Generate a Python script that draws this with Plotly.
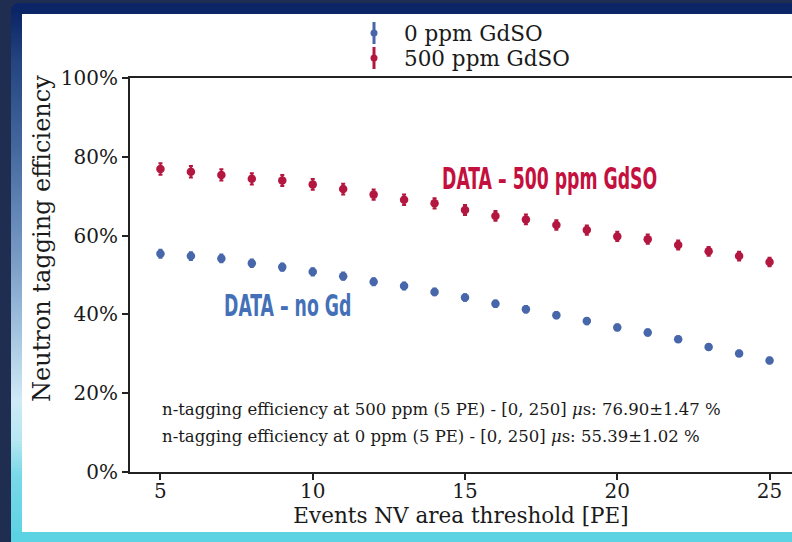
import plotly.graph_objects as go

# Neutron tagging efficiency vs. NV area threshold
threshold_pe = [5, 6, 7, 8, 9, 10, 11, 12, 13, 14, 15, 16, 17, 18, 19, 20, 21, 22, 23, 24, 25]
eff_500ppm = [76.90, 76.2, 75.4, 74.4, 74.0, 73.0, 71.8, 70.4, 69.1, 68.2, 66.5,
              65.0, 64.1, 62.7, 61.4, 59.8, 59.1, 57.6, 56.0, 54.8, 53.3]
err_500ppm = [1.47, 1.45, 1.44, 1.41, 1.40, 1.37, 1.36, 1.33, 1.31, 1.30, 1.27,
              1.25, 1.24, 1.21, 1.19, 1.18, 1.15, 1.13, 1.12, 1.10, 1.08]
eff_0ppm = [55.39, 54.8, 54.2, 53.0, 52.0, 50.8, 49.7, 48.3, 47.2, 45.7, 44.3,
            42.7, 41.3, 39.8, 38.3, 36.7, 35.4, 33.7, 31.7, 30.1, 28.3]
err_0ppm = [1.02, 1.00, 0.98, 0.96, 0.95, 0.93, 0.91, 0.89, 0.88, 0.86, 0.84,
            0.82, 0.81, 0.79, 0.77, 0.75, 0.74, 0.72, 0.70, 0.69, 0.67]
series_names = ["0 ppm GdSO", "500 ppm GdSO"]
y_ticks = [0, 20, 40, 60, 80, 100]
y_ticktext = ["0%", "20%", "40%", "60%", "80%", "100%"]
x_ticks = [5, 10, 15, 20, 25]

BLUE = "#4767aa"
RED = "#b3173f"
SERIF = "DejaVu Serif"
INK = "#1a1a1a"

W, H = 792, 542
L, R, T, B = 130, 792, 78, 472


def px(x):
    return (x - L) / (R - L)


def py(y):
    return (B - y) / (B - T)


fig = go.Figure()
fig.add_trace(go.Scatter(
    x=threshold_pe, y=eff_0ppm, mode="markers", name=series_names[0],
    marker=dict(color=BLUE, size=8.5),
    error_y=dict(type="data", array=err_0ppm, color=BLUE, thickness=2, width=2),
    showlegend=False, cliponaxis=False))
fig.add_trace(go.Scatter(
    x=threshold_pe, y=eff_500ppm, mode="markers", name=series_names[1],
    marker=dict(color=RED, size=8.5),
    error_y=dict(type="data", array=err_500ppm, color=RED, thickness=2, width=2),
    showlegend=False, cliponaxis=False))

shapes = []


def rect(x0, y0, x1, y1, color):
    shapes.append(dict(type="rect", xref="paper", yref="paper", layer="below",
                       x0=px(x0), x1=px(x1), y0=py(y1), y1=py(y0),
                       fillcolor=color, line=dict(width=0)))


# outer frame with a rounded top-left corner
r = 9
path = (f"M {px(11)},{py(542)} L {px(11)},{py(3 + r)} "
        f"Q {px(11)},{py(3)} {px(11 + r)},{py(3)} "
        f"L {px(792)},{py(3)} L {px(792)},{py(542)} Z")
shapes.append(dict(type="path", xref="paper", yref="paper", layer="below",
                   path=path, fillcolor="#0b2566", line=dict(width=0)))


def hex2rgb(h):
    h = h.lstrip("#")
    return [int(h[i:i + 2], 16) for i in (0, 2, 4)]


stops = [(10, "#0b2566"), (25, "#112d6d"), (60, "#23447f"), (150, "#45699f"),
         (250, "#7497c2"), (330, "#a2c3df"), (400, "#cfeaf6"), (440, "#b6e7f2"),
         (475, "#7ad8e8"), (542, "#5bd3e3")]


def grad(y):
    for (ya, ca), (yb, cb) in zip(stops[:-1], stops[1:]):
        if ya <= y <= yb:
            t = (y - ya) / (yb - ya)
            a, b = hex2rgb(ca), hex2rgb(cb)
            return "rgb(%d,%d,%d)" % tuple(round(a[i] + (b[i] - a[i]) * t) for i in range(3))
    return stops[-1][1]


step = 3
for y0 in range(12, 542, step):
    rect(11, y0, 22, min(y0 + step + 0.5, 542), grad(y0 + step / 2))

rect(11, 532, 792, 542, "#5bd3e3")
rect(22, 14, 792, 532, "#ffffff")

# legend glyphs: dot with vertical error bar
for name, color, yc in [(series_names[0], BLUE, 33), (series_names[1], RED, 58)]:
    shapes.append(dict(type="line", xref="paper", yref="paper", layer="above",
                       x0=px(374), x1=px(374), y0=py(yc - 11), y1=py(yc + 11),
                       line=dict(color=color, width=3)))
    shapes.append(dict(type="circle", xref="paper", yref="paper", layer="above",
                       x0=px(370.5), x1=px(377.5), y0=py(yc + 3.5), y1=py(yc - 3.5),
                       fillcolor=color, line=dict(width=0)))

annotations = []
for name, yc in [(series_names[0], 33), (series_names[1], 58)]:
    annotations.append(dict(xref="paper", yref="paper", x=px(402), y=py(yc),
                            xanchor="left", yanchor="middle", showarrow=False,
                            text=name, font=dict(family=SERIF, size=21.5, color=INK)))

info = [
    f"n-tagging efficiency at 500 ppm (5 PE) - [0, 250] <i>μ</i>s: {eff_500ppm[0]:.2f}±{err_500ppm[0]:.2f} %",
    f"n-tagging efficiency at 0 ppm (5 PE) - [0, 250] <i>μ</i>s: {eff_0ppm[0]:.2f}±{err_0ppm[0]:.2f} %",
]
for txt, yc in zip(info, [409, 436]):
    annotations.append(dict(xref="paper", yref="paper", x=px(160), y=py(yc),
                            xanchor="left", yanchor="middle", showarrow=False,
                            text=txt, font=dict(family=SERIF, size=16.5, color=INK)))

# y-axis title
annotations.append(dict(xref="paper", yref="paper", x=px(42), y=py(239),
                        xanchor="center", yanchor="middle", showarrow=False,
                        textangle=-90, text="Neutron tagging efficiency",
                        font=dict(family=SERIF, size=24, color=INK)))

# bold condensed series labels
COND = "DejaVu Sans Condensed, DejaVu Sans, sans-serif"
annotations.append(dict(xref="paper", yref="paper", x=px(440), y=py(178),
                        xanchor="left", yanchor="middle", showarrow=False,
                        text="<b>DATA – 500 ppm GdSO</b>",
                        font=dict(family=COND, size=31, color="#c4103e")))
annotations.append(dict(xref="paper", yref="paper", x=px(222), y=py(305),
                        xanchor="left", yanchor="middle", showarrow=False,
                        text="<b>DATA – no Gd</b>",
                        font=dict(family=COND, size=31, color="#4470b8")))

fig.update_layout(
    width=W, height=H,
    margin=dict(l=L, r=W - R, t=T, b=H - B, pad=0),
    paper_bgcolor="#1f2d50",
    plot_bgcolor="rgba(0,0,0,0)",
    shapes=shapes,
    annotations=annotations,
    showlegend=False,
    xaxis=dict(
        range=[4, 4 + (R - L) / 30.455], tickvals=x_ticks, ticks="outside",
        ticklen=6, tickwidth=1.5, tickcolor="#222", showgrid=False, zeroline=False,
        showline=True, linecolor="#222", linewidth=2, mirror=True,
        ticklabelstandoff=-6,
        tickfont=dict(family=SERIF, size=20, color=INK),
        title=dict(text="Events NV area threshold [PE]", standoff=2,
                   font=dict(family=SERIF, size=21.5, color=INK)),
    ),
    yaxis=dict(
        range=[0, 100], tickvals=y_ticks, ticktext=y_ticktext, ticks="outside",
        ticklen=6, tickwidth=1.5, tickcolor="#222", showgrid=False, zeroline=False,
        showline=True, linecolor="#222", linewidth=2,
        tickfont=dict(family=SERIF, size=20, color=INK),
    ),
)

# narrow the "DATA ..." labels horizontally, keeping their left edge fixed
squeeze_js = """
(function(){
  function squeeze(){
    var gd = document.getElementById('{plot_id}');
    if (!gd) return;
    gd.querySelectorAll('text.annotation-text').forEach(function(t){
      var s = t.getAttribute('data-unformatted') || '';
      if (s.indexOf('DATA') !== -1) {
        var x0 = t.getBBox().x;
        t.setAttribute('transform', 'translate(' + x0 + ',0) scale(0.62,1) translate(' + (-x0) + ',0)');
      }
    });
  }
  squeeze();
  setTimeout(squeeze, 50);
  setTimeout(squeeze, 300);
})();
"""

fig.write_html("out.html", post_script=squeeze_js)
